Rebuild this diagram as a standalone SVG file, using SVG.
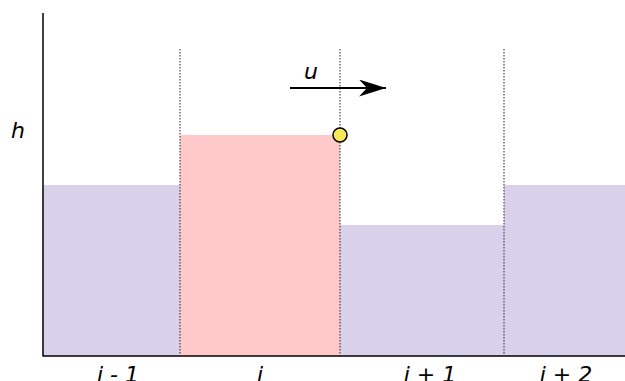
<svg xmlns="http://www.w3.org/2000/svg" width="625" height="381" viewBox="0 0 625 381">
<style>
.lbl{font-family:"DejaVu Sans",sans-serif;font-style:italic;font-size:22px;fill:#000;text-anchor:middle}
.cell{fill:#d9d0ec}
.dot{stroke:#222;stroke-width:1;stroke-dasharray:1.5,1.5;fill:none}
</style>
<defs>
<marker id="ah" viewBox="0 0 27 17" refX="27" refY="8.5" markerWidth="27" markerHeight="17" markerUnits="userSpaceOnUse" orient="auto">
<path d="M0,0 L27,8.5 L0,17 L8,8.5 Z" fill="#000"/>
</marker>
</defs>
<rect width="625" height="381" fill="#fff"/>
<g id="cell-im1"><rect class="cell" x="43" y="185" width="137" height="171"/></g>
<g id="cell-i"><rect x="180" y="135" width="160" height="221" fill="#ffc9c9"/></g>
<g id="cell-ip1"><rect class="cell" x="340" y="225" width="164" height="131"/></g>
<g id="cell-ip2"><rect class="cell" x="504" y="185" width="121" height="171"/></g>
<g id="axes">
<line x1="43" y1="13" x2="43" y2="356.5" stroke="#000" stroke-width="1.5"/>
<line x1="43" y1="356" x2="625" y2="356" stroke="#000" stroke-width="1.5"/>
</g>
<g id="dividers">
<line class="dot" x1="180" y1="49" x2="180" y2="356"/>
<line class="dot" x1="340" y1="49" x2="340" y2="356"/>
<line class="dot" x1="504" y1="49" x2="504" y2="356"/>
</g>
<g id="point"><circle cx="340" cy="135" r="7" fill="#f7e85a" stroke="#000" stroke-width="1.5"/></g>
<g id="connectors">
<line x1="290" y1="88" x2="386" y2="88" stroke="#000" stroke-width="2" marker-end="url(#ah)"/>
</g>
<g id="labels">
<text class="lbl" x="311" y="79">u</text>
<text class="lbl" x="18" y="138">h</text>
<text class="lbl" x="118" y="382">i - 1</text>
<text class="lbl" x="260" y="382">i</text>
<text class="lbl" x="430" y="382">i + 1</text>
<text class="lbl" x="566" y="382">i + 2</text>
</g>
</svg>
